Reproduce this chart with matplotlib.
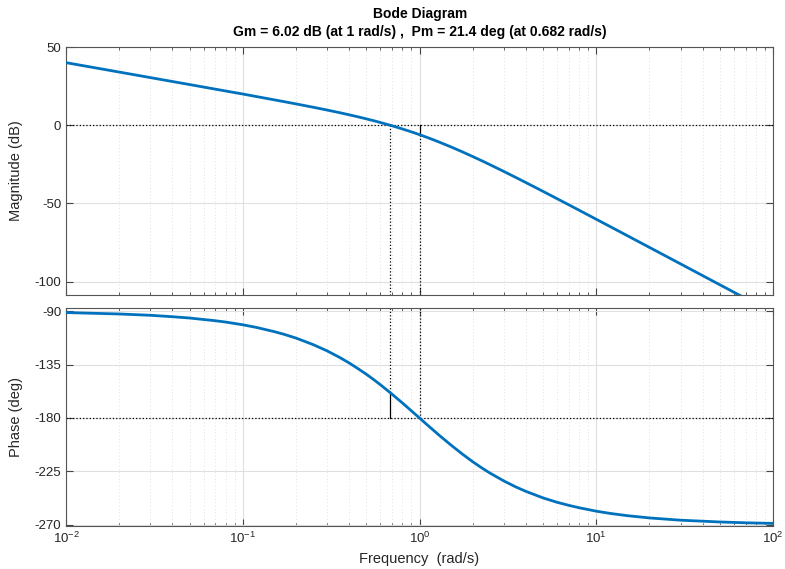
import matplotlib
matplotlib.use("Agg")
import matplotlib.pyplot as plt
import numpy as np

plt.rcParams['font.family'] = ['Liberation Sans', 'DejaVu Sans']
plt.rcParams['axes.unicode_minus'] = False

# frequency response values
freq = [0.01, 0.02, 0.03, 0.04, 0.05, 0.07, 0.08, 0.1, 0.12, 0.15, 0.17, 0.2, 0.25,
        0.3, 0.35, 0.4, 0.45, 0.5, 0.55, 0.6, 0.682, 0.7, 0.8, 0.9, 1.0, 1.1, 1.2,
        1.3, 1.5, 1.75, 2.0, 2.25, 2.5, 3.0, 3.5, 4.0, 5.0, 6.0, 7.0, 8.0, 10.0,
        12.0, 15.0, 20.0, 30.0, 50.0, 70.0, 100.0]
mag_db = [40.0, 33.98, 30.45, 27.94, 26.0, 23.06, 21.88, 19.96, 18.30, 16.28, 15.14,
          13.64, 11.51, 9.71, 8.12, 6.67, 5.34, 4.08, 2.90, 1.77, 0.0, -0.36, -2.36,
          -4.24, -6.02, -7.72, -9.33, -10.88, -13.76, -17.04, -20.0, -22.69, -25.17,
          -29.54, -33.32, -36.65, -42.28, -46.93, -50.88, -54.32, -60.09, -64.81,
          -70.6, -78.08, -88.63, -101.94, -110.7, -120.0]
phase_deg = [-91.1, -92.3, -93.4, -94.6, -95.7, -98.0, -99.1, -101.4, -103.7, -107.1,
             -109.3, -112.6, -118.1, -123.4, -128.6, -133.6, -138.5, -143.1, -147.6,
             -151.9, -158.6, -160.0, -167.3, -174.0, -180.0, -185.5, -190.4, -194.9,
             -202.6, -210.5, -216.9, -222.1, -226.4, -233.1, -238.1, -241.9, -247.4,
             -251.1, -253.7, -255.7, -258.6, -260.5, -262.4, -264.3, -266.2, -267.7,
             -268.4, -268.9]

gm_db = 6.02
gm_freq = 1.0
pm_deg = 21.4
pm_freq = 0.682

blue = '#0072BD'
dark = '#262626'

fig = plt.figure(figsize=(7.85, 5.69), dpi=100)
W, H = 785.0, 569.0
ax1 = fig.add_axes([66 / W, 1 - 295 / H, (773 - 66) / W, (295 - 47) / H])
ax2 = fig.add_axes([66 / W, 1 - 526 / H, (773 - 66) / W, (526 - 307.7) / H])

for ax in (ax1, ax2):
    ax.set_xscale('log')
    ax.set_xlim(1e-2, 1e2)
    ax.grid(True, which='major', color='#e0e0e0', linewidth=0.8)
    ax.grid(True, which='minor', color='#d8d8d8', linestyle=(0, (1, 3)), linewidth=0.6)
    ax.tick_params(which='both', direction='in', top=True, right=True,
                   colors='#444444', labelsize=9.5, labelcolor=dark)
    ax.tick_params(which='major', length=5)
    ax.tick_params(which='minor', length=2.5)
    for s in ax.spines.values():
        s.set_color('#555555')
        s.set_linewidth(0.8)
    ax.set_axisbelow(True)

# magnitude
ax1.plot(freq, mag_db, color=blue, linewidth=2, zorder=3)
ax1.set_ylim(-108.5, 50)
ax1.set_yticks([-100, -50, 0, 50])
ax1.tick_params(axis='x', which='both', labelbottom=False)
ax1.axhline(0, color='k', linestyle=':', linewidth=0.9, zorder=2)
ax1.plot([pm_freq, pm_freq], [0, -108.5], color='k', linestyle=':', linewidth=0.9, zorder=2)
ax1.plot([gm_freq, gm_freq], [-gm_db, -108.5], color='k', linestyle=':', linewidth=0.9, zorder=2)
ax1.plot([gm_freq, gm_freq], [0, -gm_db], color='k', linewidth=0.9, zorder=2)
ax1.set_ylabel('Magnitude (dB)', fontsize=10.5, color=dark, labelpad=8)

# phase
ax2.plot(freq, phase_deg, color=blue, linewidth=2, zorder=3)
ax2.set_ylim(-271.1, -87)
ax2.set_yticks([-270, -225, -180, -135, -90])
ax2.axhline(-180, color='k', linestyle=':', linewidth=0.9, zorder=2)
ax2.plot([pm_freq, pm_freq], [-87, -180 + pm_deg], color='k', linestyle=':', linewidth=0.9, zorder=2)
ax2.plot([pm_freq, pm_freq], [-180 + pm_deg, -180], color='k', linewidth=0.9, zorder=2)
ax2.plot([gm_freq, gm_freq], [-87, -180], color='k', linestyle=':', linewidth=0.9, zorder=2)
ax2.set_ylabel('Phase (deg)', fontsize=10.5, color=dark, labelpad=8)
ax2.set_xlabel('Frequency  (rad/s)', fontsize=10.5, color=dark)

fig.text(420 / W, 1 - 14 / H, 'Bode Diagram', ha='center', va='center',
         fontsize=10, fontweight='bold')
fig.text(420 / W, 1 - 32 / H,
         'Gm = 6.02 dB (at 1 rad/s) ,  Pm = 21.4 deg (at 0.682 rad/s)',
         ha='center', va='center', fontsize=10, fontweight='bold')

fig.savefig('out.png', dpi=100)
